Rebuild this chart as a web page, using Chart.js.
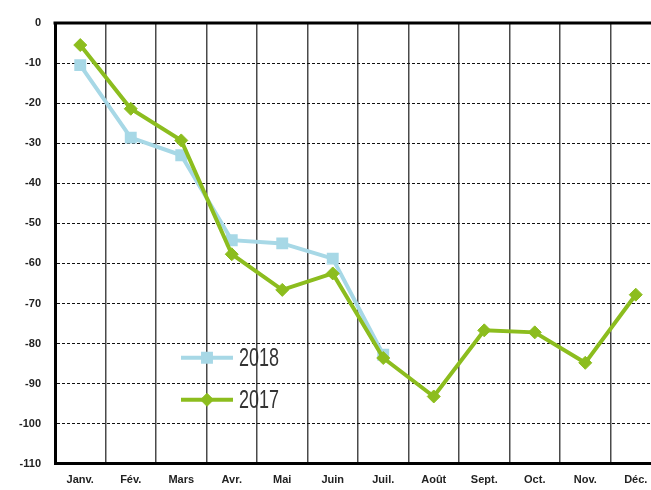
<!DOCTYPE html>
<html>
<head>
<meta charset="utf-8">
<script src="https://cdn.jsdelivr.net/npm/chart.js@4/dist/chart.umd.min.js"></script>
<style>
  html, body { margin: 0; padding: 0; background: #fff; overflow: hidden; }
  canvas { display: block; }
</style>
</head>
<body>
<canvas id="c" width="651" height="490" style="width:651px;height:490px"></canvas>
<script>
const categories = ['Janv.', 'Fév.', 'Mars', 'Avr.', 'Mai', 'Juin', 'Juil.', 'Août', 'Sept.', 'Oct.', 'Nov.', 'Déc.'];
const values2018 = [-10.5, -28.6, -33.0, -54.2, -55.0, -58.8, -82.8, null, null, null, null, null];
const values2017 = [-5.5, -21.4, -29.3, -57.7, -66.6, -62.5, -83.6, -93.2, -76.7, -77.2, -84.8, -67.8];
const yTicks = [0, -10, -20, -30, -40, -50, -60, -70, -80, -90, -100, -110];

const BLUE = '#a7d8e6';
const GREEN = '#8cbd1e';

// the plot area of the original runs past the right edge of the picture
const extendRight = {
  id: 'extendRight',
  afterLayout(chart) {
    const extra = 19;
    const x = chart.scales.x;
    x.right += extra;
    x.width += extra;
    x.configure();
    chart.chartArea.right += extra;
    chart.chartArea.width += extra;
  }
};

const frameAndLegend = {
  id: 'frameAndLegend',
  afterDraw(chart) {
    const { ctx, chartArea: a } = chart;
    ctx.save();
    ctx.strokeStyle = '#000';
    ctx.lineWidth = 3;
    ctx.beginPath();
    ctx.moveTo(a.left - 1.5, a.top);
    ctx.lineTo(a.right, a.top);
    ctx.stroke();

    const items = [chart.data.datasets[0], chart.data.datasets[1]];
    const x0 = a.left + 126, lineLen = 52;
    const rows = [a.bottom - 106, a.bottom - 64];
    items.forEach((ds, i) => {
      const y = rows[i];
      ctx.strokeStyle = ds.borderColor;
      ctx.lineWidth = ds.borderWidth;
      ctx.beginPath();
      ctx.moveTo(x0, y);
      ctx.lineTo(x0 + lineLen, y);
      ctx.stroke();
      ctx.fillStyle = ds.pointBackgroundColor;
      ctx.strokeStyle = ds.pointBorderColor;
      ctx.lineWidth = ds.pointBorderWidth;
      Chart.helpers.drawPoint(ctx, { pointStyle: ds.pointStyle, radius: ds.pointRadius, borderWidth: ds.pointBorderWidth }, x0 + lineLen / 2, y);
      ctx.save();
      ctx.translate(x0 + lineLen + 6, y);
      ctx.scale(0.72, 1);
      ctx.fillStyle = '#333';
      ctx.font = '25px "Liberation Sans", Arial, sans-serif';
      ctx.textBaseline = 'middle';
      ctx.textAlign = 'left';
      ctx.fillText(ds.label, 0, 1);
      ctx.restore();
    });
    ctx.restore();
  }
};

new Chart(document.getElementById('c'), {
  type: 'line',
  data: {
    labels: categories,
    datasets: [
      {
        label: '2018',
        data: values2018,
        borderColor: BLUE,
        backgroundColor: BLUE,
        borderWidth: 4,
        pointStyle: 'rect',
        pointRadius: 7,
        pointBorderWidth: 2,
        pointBackgroundColor: BLUE,
        pointBorderColor: BLUE,
        tension: 0,
        spanGaps: false,
        order: 2
      },
      {
        label: '2017',
        data: values2017,
        borderColor: GREEN,
        backgroundColor: GREEN,
        borderWidth: 4,
        pointStyle: 'rectRot',
        pointRadius: 6.5,
        pointBorderWidth: 1,
        pointBackgroundColor: GREEN,
        pointBorderColor: GREEN,
        tension: 0,
        order: 1
      }
    ]
  },
  options: {
    responsive: false,
    animation: false,
    devicePixelRatio: 1,
    layout: { padding: { top: 23, left: 0, right: 0, bottom: -7 } },
    plugins: {
      legend: { display: false },
      tooltip: { enabled: false }
    },
    scales: {
      x: {
        offset: true,
        grid: {
          offset: true,
          drawTicks: false,
          color: '#4a4a4a',
          lineWidth: 1.5
        },
        border: { display: true, color: '#000', width: 3 },
        ticks: {
          padding: 10,
          color: '#222',
          font: { family: 'Arial, "Liberation Sans", sans-serif', size: 11, weight: 'bold' },
          maxRotation: 0,
          autoSkip: false
        }
      },
      y: {
        min: -110,
        max: 0,
        afterFit(axis) { axis.width = 55; },
        afterBuildTicks(axis) { axis.ticks = yTicks.map(v => ({ value: v })); },
        grid: {
          drawTicks: false,
          color: ctx => (ctx.tick && (ctx.tick.value === 0 || ctx.tick.value === -110)) ? 'rgba(0,0,0,0)' : '#111',
          lineWidth: 1
        },
        border: { display: true, color: '#000', width: 3, dash: [3, 2] },
        ticks: {
          padding: 14,
          color: '#222',
          font: { family: 'Arial, "Liberation Sans", sans-serif', size: 11, weight: 'bold' }
        }
      }
    }
  },
  plugins: [extendRight, frameAndLegend]
});
</script>
</body>
</html>
